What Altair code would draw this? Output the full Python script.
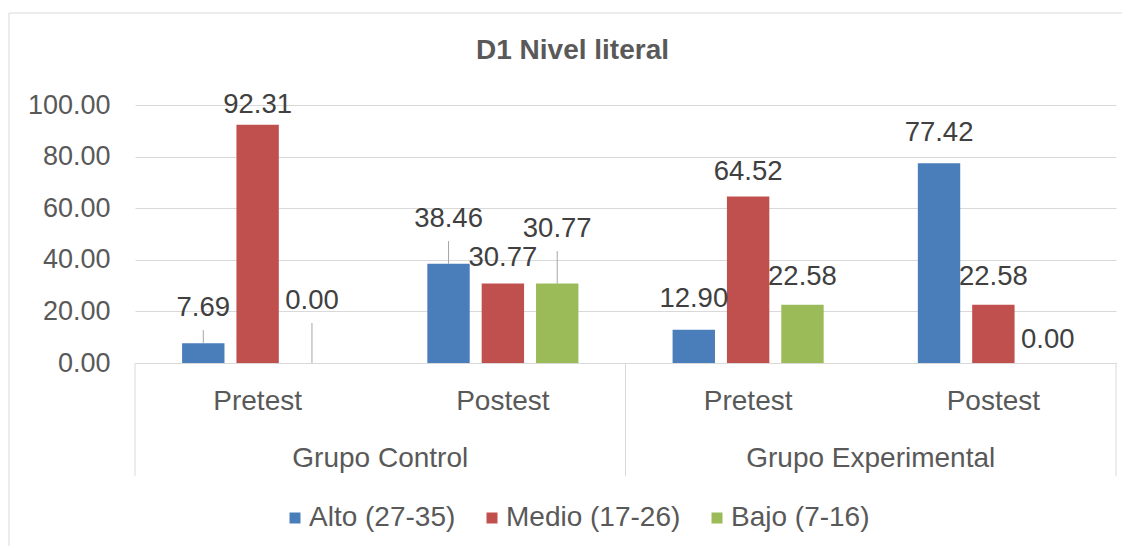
import altair as alt
import pandas as pd

# ---- data ----
GROUPS = ["Grupo Control", "Grupo Experimental"]
TESTS = ["Pretest", "Postest"]
SERIES = ["Alto (27-35)", "Medio (17-26)", "Bajo (7-16)"]
CONTROL_PRETEST = [7.69, 92.31, 0.00]
CONTROL_POSTEST = [38.46, 30.77, 30.77]
EXPERIMENTAL_PRETEST = [12.90, 64.52, 22.58]
EXPERIMENTAL_POSTEST = [77.42, 22.58, 0.00]
Y_TICKS = [0, 20, 40, 60, 80, 100]

# ---- styling ----
COLORS = ["#4A7EBB", "#C0504D", "#9BBB59"]
# data-label lift above the bar top (value units) and leader-line flags, per bar
LABEL_LIFT = [[13.6, 7.5, 24.0], [17.3, 9.9, 21.1], [11.9, 9.6, 10.7], [11.7, 10.7, 8.9]]
LEADER = [[True, False, True], [True, False, True], [False, False, False], [False, False, False]]
FONT = "Liberation Sans"
AXIS_GREY = "#595959"
GRID = "#D9D9D9"
W, H = 981, 258

values_by_cat = [CONTROL_PRETEST, CONTROL_POSTEST, EXPERIMENTAL_PRETEST, EXPERIMENTAL_POSTEST]
KEYS = [f"{g}|{t}" for g in GROUPS for t in TESTS]
rows = []
for ci, key in enumerate(KEYS):
    g, t = key.split("|")
    for si, s in enumerate(SERIES):
        rows.append({"key": key, "group": g, "test": t, "series": s,
                     "value": values_by_cat[ci][si],
                     "lift": LABEL_LIFT[ci][si], "leader": LEADER[ci][si]})
df = pd.DataFrame(rows)
grp_df = pd.DataFrame({"group": GROUPS})
frame_df = pd.DataFrame({"k": [0]})

key_scale = alt.Scale(domain=KEYS, paddingInner=0.384, paddingOuter=0.192)
off_scale = alt.Scale(domain=SERIES, paddingInner=0.22, paddingOuter=0)
y_scale = alt.Scale(domain=[0, 100], nice=False)
grp_scale = alt.Scale(domain=GROUPS, paddingInner=0, paddingOuter=0)

y_axis = alt.Axis(values=Y_TICKS, format=".2f", labelFontSize=27, labelColor=AXIS_GREY,
                  labelFont=FONT, labelPadding=25, ticks=False, domain=False,
                  gridColor=GRID, gridWidth=1, title=None)

base = alt.Chart(df)

bars = base.mark_bar().encode(
    x=alt.X("key:N", scale=key_scale, title=None,
            axis=alt.Axis(labelExpr="split(datum.value, '|')[1]", labelAngle=0,
                          labelFontSize=28, labelColor=AXIS_GREY, labelFont=FONT,
                          ticks=False, tickSize=0, labelPadding=38, labelBaseline="middle",
                          domainColor=GRID, domainWidth=1, grid=False)),
    xOffset=alt.XOffset("series:N", scale=off_scale),
    y=alt.Y("value:Q", scale=y_scale, title=None, axis=y_axis),
    color=alt.Color("series:N", scale=alt.Scale(domain=SERIES, range=COLORS),
                    legend=alt.Legend(title=None, orient="none", legendX=146, legendY=399,
                                      direction="horizontal", symbolType="square",
                                      symbolSize=121, symbolStrokeWidth=0,
                                      labelFontSize=28, labelColor=AXIS_GREY, labelFont=FONT,
                                      labelLimit=0, columnPadding=22, labelOffset=0)),
)

labels = base.transform_calculate(label_pos="datum.value + datum.lift").mark_text(
    font=FONT, fontSize=27.5, color="#404040", baseline="middle", align="center"
).encode(
    x=alt.X("key:N", scale=key_scale, axis=None),
    xOffset=alt.XOffset("series:N", scale=off_scale),
    y=alt.Y("label_pos:Q", scale=y_scale, title=None, axis=y_axis),
    text=alt.Text("value:Q", format=".2f"),
)

leaders = base.transform_filter("datum.leader").transform_calculate(
    leader_end="datum.value + datum.lift - 8.5"
).mark_rule(color="#A6A6A6", strokeWidth=1).encode(
    x=alt.X("key:N", scale=key_scale, axis=None),
    xOffset=alt.XOffset("series:N", scale=off_scale),
    y=alt.Y("value:Q", scale=y_scale, title=None, axis=y_axis),
    y2="leader_end:Q",
)

group_labels = alt.Chart(grp_df).mark_text(
    font=FONT, fontSize=28, color=AXIS_GREY, baseline="middle", align="center"
).encode(
    x=alt.X("group:N", scale=grp_scale, axis=None),
    y=alt.value(H + 96),
    text="group:N",
)

sep_left = alt.Chart(grp_df).mark_rule(color=GRID, strokeWidth=1).encode(
    x=alt.X("group:N", scale=grp_scale, axis=None, bandPosition=0),
    y=alt.value(H), y2=alt.value(H + 113),
)
sep_right = alt.Chart(grp_df).mark_rule(color=GRID, strokeWidth=1).encode(
    x=alt.X("group:N", scale=grp_scale, axis=None, bandPosition=1),
    y=alt.value(H), y2=alt.value(H + 113),
)

border_top = alt.Chart(frame_df).mark_rule(color=GRID, strokeWidth=1).encode(
    x=alt.value(-126), x2=alt.value(987), y=alt.value(-92)
)
border_left = alt.Chart(frame_df).mark_rule(color=GRID, strokeWidth=1).encode(
    x=alt.value(-126), y=alt.value(-92), y2=alt.value(441)
)

chart = alt.layer(
    border_top, border_left, bars, leaders, labels, sep_left, sep_right, group_labels
).resolve_scale(x="independent").properties(
    width=W, height=H,
    padding={"left": 0, "top": 4, "right": 0, "bottom": 0},
    background="white",
    title=alt.TitleParams("D1 Nivel literal", font=FONT, fontSize=28, fontWeight="bold",
                          color=AXIS_GREY, anchor="middle", frame="group", dx=-53,
                          offset=-74, baseline="alphabetic"),
).configure_view(stroke=None)

chart.save("out.html", embed_options={"renderer": "svg", "actions": False})
